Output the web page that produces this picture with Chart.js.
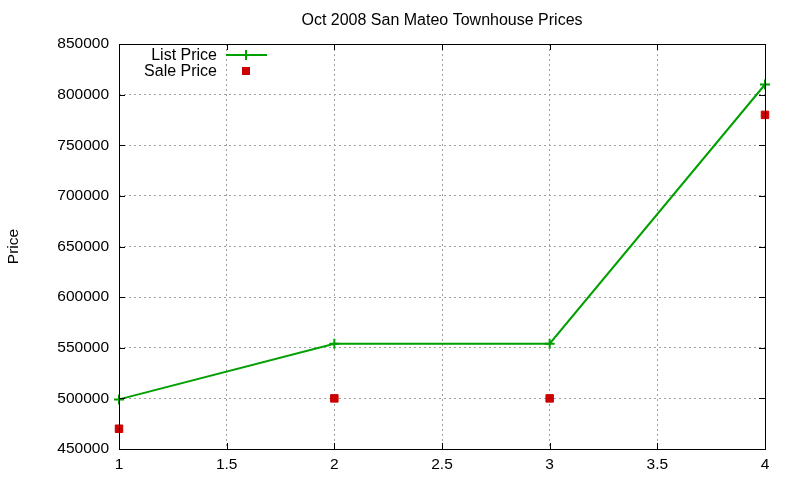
<!DOCTYPE html>
<html>
<head>
<meta charset="utf-8">
<script src="https://cdn.jsdelivr.net/npm/chart.js@4"></script>
<style>
  html, body { margin: 0; padding: 0; background: #fff; }
  #wrap { width: 800px; height: 480px; }
</style>
</head>
<body>
<div id="wrap"><canvas id="myChart" width="800" height="480"></canvas></div>
<script>
// data
const months = [1, 2, 3, 4];
const listPrice = [499000, 554000, 554000, 810000];
const salePrice = [470000, 500000, 500000, 780000];
const seriesNames = ["List Price", "Sale Price"];
const chartTitle = "Oct 2008 San Mateo Townhouse Prices";
const yLabel = "Price";

const GREEN = "#00a000";
const RED = "#cc0000";
const FONT = "'Liberation Sans', Arial, sans-serif";

// box, inward tick marks, title over the plot and the key, like gnuplot
const gnuplotBits = {
    id: "gnuplotBits",
    afterDraw(chart) {
        const ctx = chart.ctx;
        const a = chart.chartArea;
        const xs = chart.scales.x;
        const ys = chart.scales.y;
        ctx.save();
        ctx.strokeStyle = "#000";
        ctx.lineWidth = 1;
        ctx.beginPath();
        xs.ticks.forEach(function (t) {
            const px = Math.round(xs.getPixelForValue(t.value)) + 0.5;
            ctx.moveTo(px, a.bottom);
            ctx.lineTo(px, a.bottom - 6);
            ctx.moveTo(px, a.top);
            ctx.lineTo(px, a.top + 6);
        });
        ys.ticks.forEach(function (t) {
            const py = Math.round(ys.getPixelForValue(t.value)) + 0.5;
            ctx.moveTo(a.left, py);
            ctx.lineTo(a.left + 6, py);
            ctx.moveTo(a.right, py);
            ctx.lineTo(a.right - 6, py);
        });
        ctx.stroke();
        ctx.strokeRect(Math.round(a.left) + 0.5, Math.round(a.top) + 0.5,
            Math.round(a.right - a.left), Math.round(a.bottom - a.top));

        // title, centred over the plot box
        ctx.fillStyle = "#000";
        ctx.font = "16px " + FONT;
        ctx.textAlign = "center";
        ctx.textBaseline = "middle";
        ctx.fillText(chartTitle, (a.left + a.right) / 2, 21);

        // key
        const textRight = 217;
        const row1 = 56, row2 = 72;
        ctx.textAlign = "right";
        ctx.fillText(seriesNames[0], textRight, row1);
        ctx.fillText(seriesNames[1], textRight, row2);
        ctx.strokeStyle = GREEN;
        ctx.lineWidth = 2;
        ctx.beginPath();
        ctx.moveTo(226, row1 - 1);
        ctx.lineTo(267, row1 - 1);
        ctx.moveTo(246, row1 - 6);
        ctx.lineTo(246, row1 + 4);
        ctx.stroke();
        ctx.fillStyle = RED;
        ctx.fillRect(242, row2 - 5, 8, 8);
        ctx.restore();
    }
};

function buildChart() {
    const ctx = document.getElementById("myChart");
    new Chart(ctx, {
        type: "scatter",
        data: {
            datasets: [
                {
                    label: seriesNames[0],
                    data: months.map(function (m, i) { return { x: m, y: listPrice[i] }; }),
                    showLine: true,
                    borderColor: GREEN,
                    backgroundColor: GREEN,
                    borderWidth: 2,
                    pointStyle: "cross",
                    pointRadius: 5,
                    pointBorderWidth: 2,
                    clip: false,
                },
                {
                    label: seriesNames[1],
                    data: months.map(function (m, i) { return { x: m, y: salePrice[i] }; }),
                    showLine: false,
                    borderColor: RED,
                    backgroundColor: RED,
                    pointStyle: "rect",
                    pointRadius: 5.3,
                    pointBorderWidth: 1,
                    clip: false,
                },
            ],
        },
        options: {
            responsive: false,
            animation: false,
            layout: { padding: { left: 0, right: 35, top: 44, bottom: 0 } },
            plugins: {
                legend: { display: false },
                tooltip: { enabled: false },
                title: { display: false },
            },
            scales: {
                x: {
                    type: "linear",
                    min: 1,
                    max: 4,
                    ticks: {
                        stepSize: 0.5,
                        color: "#000",
                        padding: 6,
                        font: { family: FONT, size: 15.5 },
                        callback: function (v) { return String(v); },
                    },
                    grid: { color: "#a0a0a0", drawTicks: false },
                    border: { color: "#000", dash: [2, 3], display: false },
                    afterFit: function (scale) { scale.height = 31; },
                },
                y: {
                    min: 450000,
                    max: 850000,
                    ticks: {
                        stepSize: 50000,
                        color: "#000",
                        padding: 10,
                        font: { family: FONT, size: 15.5 },
                        callback: function (v) { return String(v); },
                    },
                    grid: { color: "#a0a0a0", drawTicks: false },
                    border: { color: "#000", dash: [2, 3], display: false },
                    title: {
                        display: true,
                        text: yLabel,
                        color: "#000",
                        font: { family: FONT, size: 15.5 },
                        padding: { top: 4, bottom: 4 },
                    },
                    afterFit: function (scale) { scale.width = 119; },
                },
            },
        },
        plugins: [gnuplotBits],
    });
}

window.onload = function () {
    buildChart();
};
</script>
</body>
</html>
